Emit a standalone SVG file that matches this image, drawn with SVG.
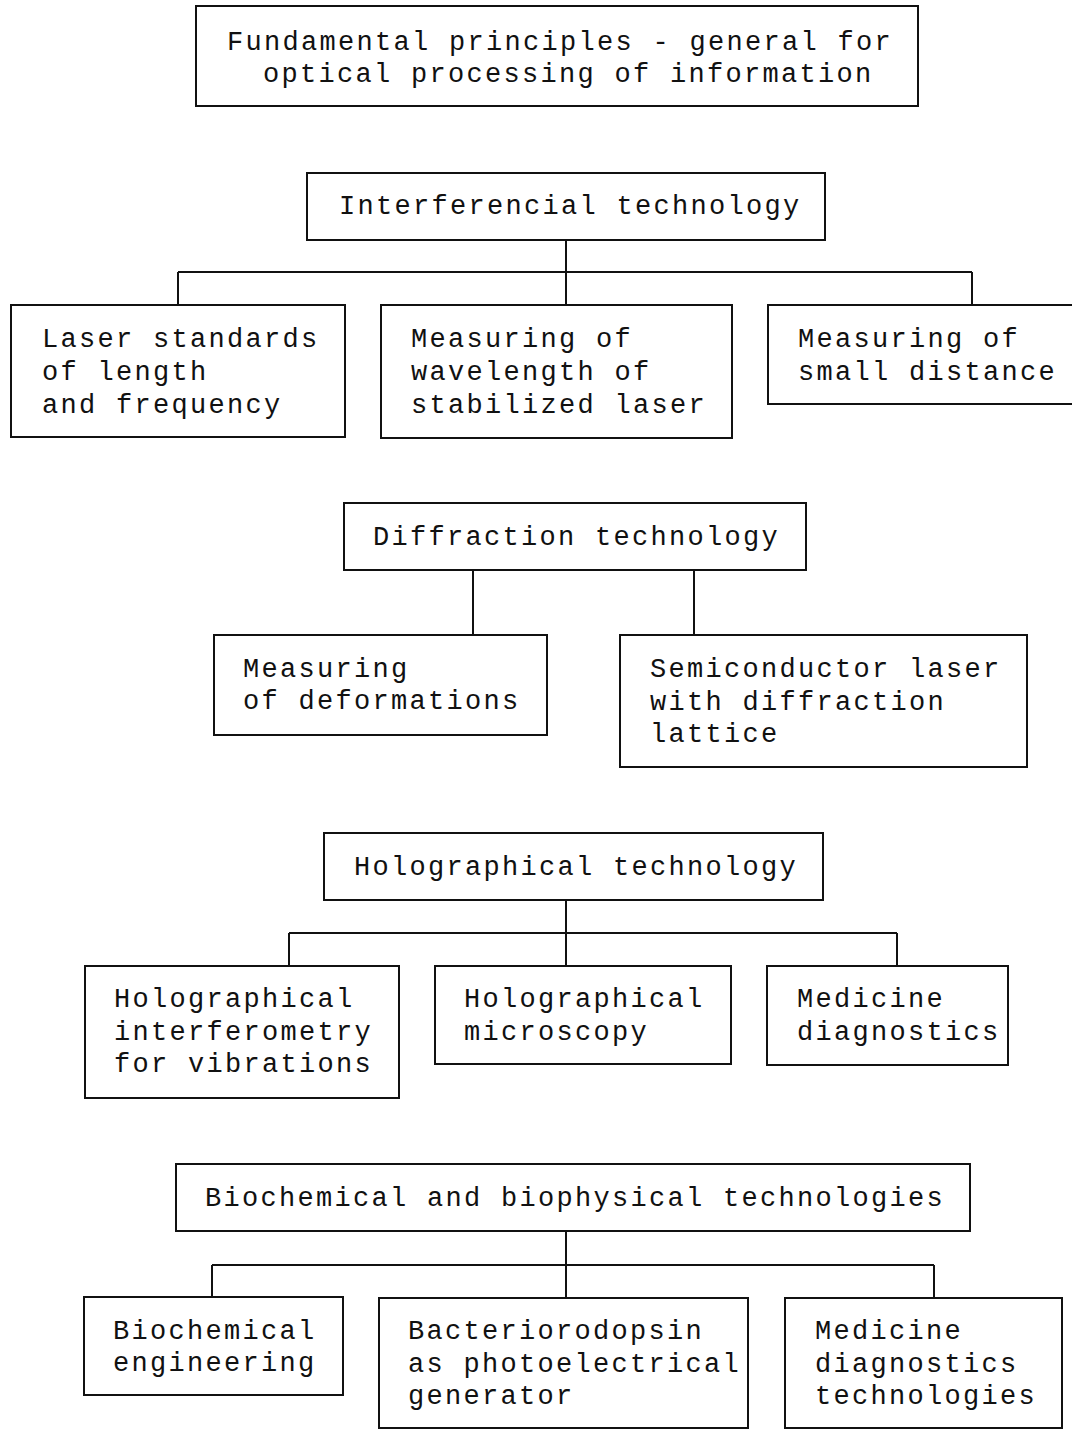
<svg xmlns="http://www.w3.org/2000/svg" width="1072" height="1429" viewBox="0 0 1072 1429">
<style>
rect{fill:none;stroke:#111;stroke-width:2}
.c line{stroke:#111;stroke-width:2}
text{font-family:"Liberation Mono","DejaVu Sans Mono",monospace;font-size:27px;letter-spacing:2.3px;fill:#111}
</style>
<rect x="0" y="0" width="1072" height="1429" style="fill:#fff;stroke:none"/>
<g class="c" id="connectors">
<line x1="566" y1="240" x2="566" y2="305"/>
<line x1="178" y1="272" x2="972" y2="272"/>
<line x1="178" y1="272" x2="178" y2="305"/>
<line x1="972" y1="272" x2="972" y2="305"/>
<line x1="473" y1="570" x2="473" y2="635"/>
<line x1="694" y1="570" x2="694" y2="635"/>
<line x1="566" y1="900" x2="566" y2="966"/>
<line x1="289" y1="933" x2="897" y2="933"/>
<line x1="289" y1="933" x2="289" y2="966"/>
<line x1="897" y1="933" x2="897" y2="966"/>
<line x1="566" y1="1231" x2="566" y2="1298"/>
<line x1="212" y1="1265" x2="934" y2="1265"/>
<line x1="212" y1="1265" x2="212" y2="1298"/>
<line x1="934" y1="1265" x2="934" y2="1298"/>
</g>
<g id="root"><rect x="196" y="6" width="722" height="100"/>
<text x="227" y="50">Fundamental principles - general for</text>
<text x="263" y="82">optical processing of information</text></g>
<g id="interf"><rect x="307" y="173" width="518" height="67"/>
<text x="339" y="214">Interferencial technology</text></g>
<g id="laser"><rect x="11" y="305" width="334" height="132"/>
<text x="42" y="347">Laser standards</text><text x="42" y="380">of length</text><text x="42" y="413">and frequency</text></g>
<g id="wave"><rect x="381" y="305" width="351" height="133"/>
<text x="411" y="347">Measuring of</text><text x="411" y="380">wavelength of</text><text x="411" y="413">stabilized laser</text></g>
<g id="small"><rect x="768" y="305" width="312" height="99"/>
<text x="798" y="347">Measuring of</text><text x="798" y="380">small distance</text></g>
<g id="diffr"><rect x="344" y="503" width="462" height="67"/>
<text x="373" y="545">Diffraction technology</text></g>
<g id="deform"><rect x="214" y="635" width="333" height="100"/>
<text x="243" y="677">Measuring</text><text x="243" y="709">of deformations</text></g>
<g id="semi"><rect x="620" y="635" width="407" height="132"/>
<text x="650" y="677">Semiconductor laser</text><text x="650" y="710">with diffraction</text><text x="650" y="742">lattice</text></g>
<g id="holo"><rect x="324" y="833" width="499" height="67"/>
<text x="354" y="875">Holographical technology</text></g>
<g id="holoint"><rect x="85" y="966" width="314" height="132"/>
<text x="114" y="1007">Holographical</text><text x="114" y="1040">interferometry</text><text x="114" y="1072">for vibrations</text></g>
<g id="holomic"><rect x="435" y="966" width="296" height="98"/>
<text x="464" y="1007">Holographical</text><text x="464" y="1040">microscopy</text></g>
<g id="meddiag"><rect x="767" y="966" width="241" height="99"/>
<text x="797" y="1007">Medicine</text><text x="797" y="1040">diagnostics</text></g>
<g id="bio"><rect x="176" y="1164" width="794" height="67"/>
<text x="205" y="1206">Biochemical and biophysical technologies</text></g>
<g id="bioeng"><rect x="84" y="1297" width="259" height="98"/>
<text x="113" y="1339">Biochemical</text><text x="113" y="1371">engineering</text></g>
<g id="bact"><rect x="379" y="1298" width="369" height="130"/>
<text x="408" y="1339">Bacteriorodopsin</text><text x="408" y="1372">as photoelectrical</text><text x="408" y="1404">generator</text></g>
<g id="medtech"><rect x="785" y="1298" width="277" height="130"/>
<text x="815" y="1339">Medicine</text><text x="815" y="1372">diagnostics</text><text x="815" y="1404">technologies</text></g>
</svg>
